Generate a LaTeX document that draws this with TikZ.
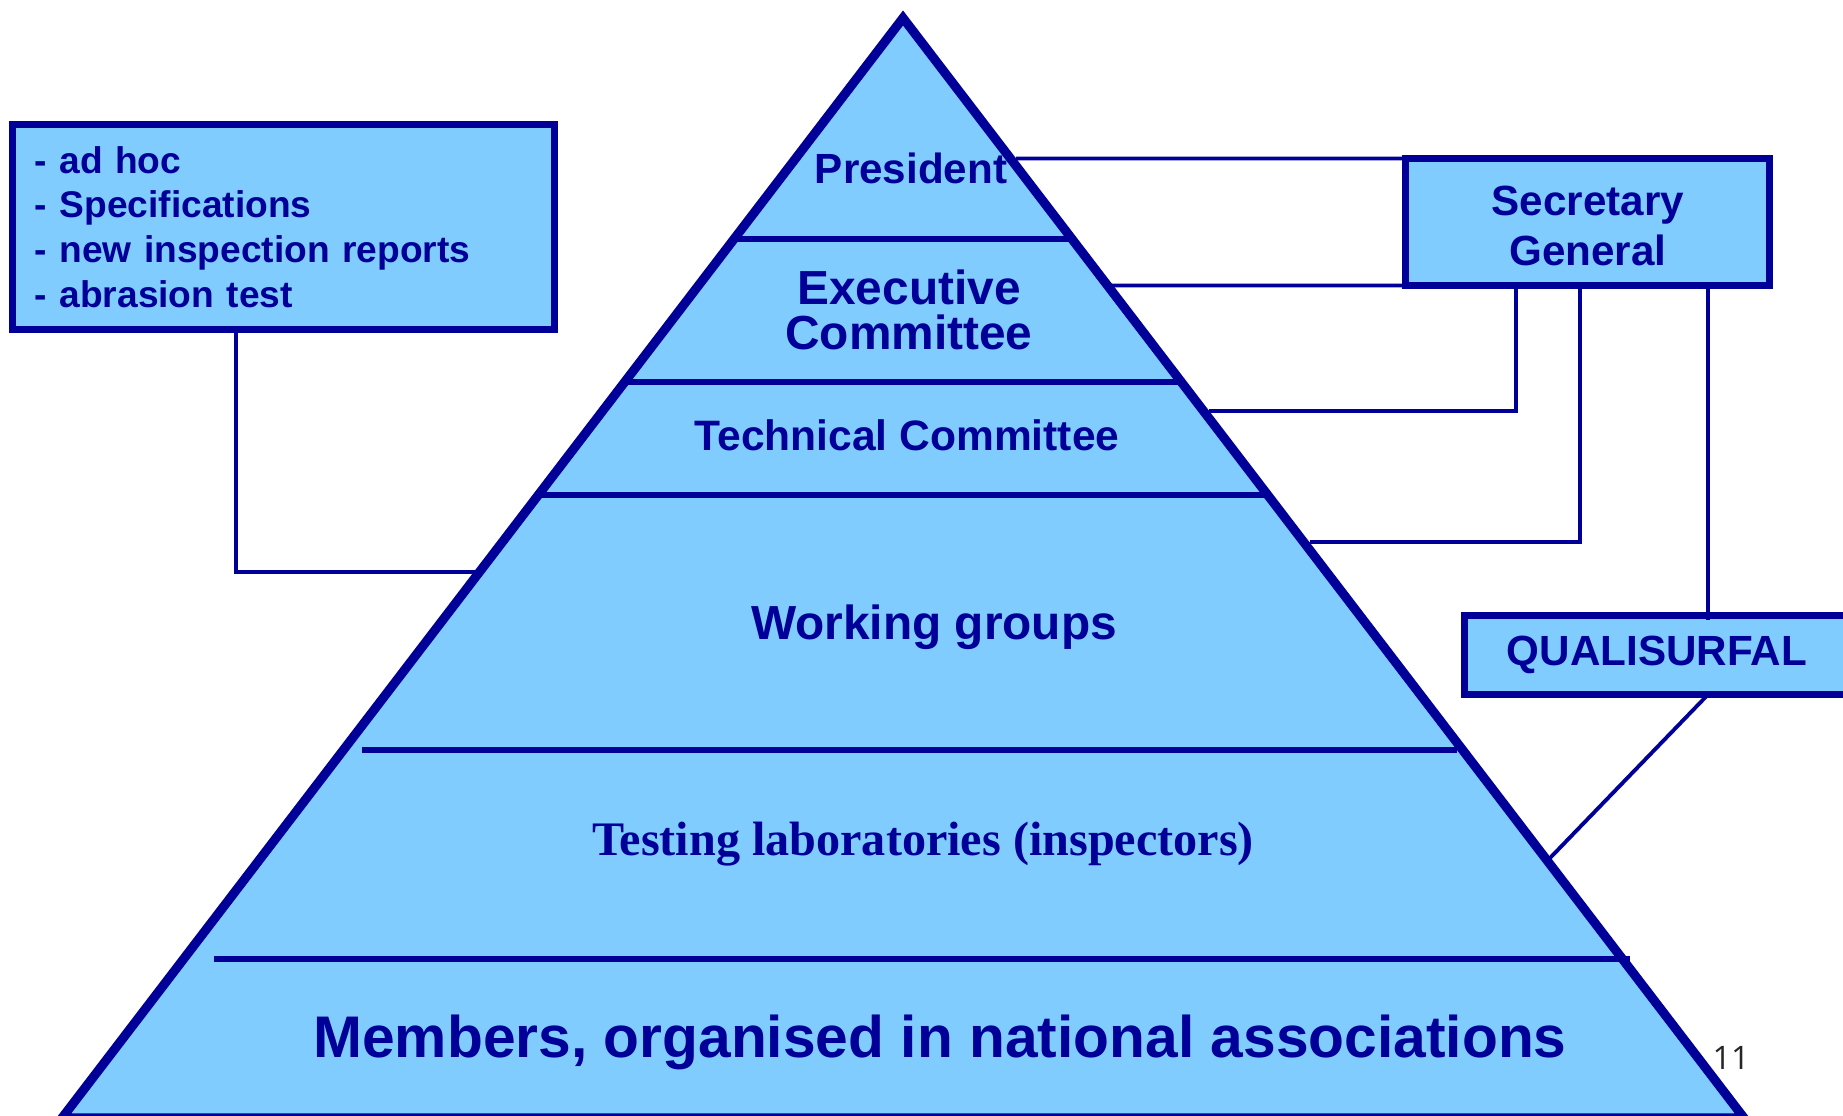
\documentclass[tikz,border=0pt]{standalone}
\usepackage{fontspec}
\setmainfont{Liberation Sans}
\newfontfamily\serifbold{Liberation Serif}
\newfontfamily\pagefont{Open Sans}
\definecolor{pyrnavy}{HTML}{000099}
\definecolor{pyrfill}{HTML}{80CCFF}
\tikzset{
  level/.style={text=pyrnavy, inner sep=0pt},
  box/.style={draw=pyrnavy, fill=pyrfill, line width=2pt, inner sep=0pt, outer sep=0pt, text=pyrnavy},
  link/.style={draw=pyrnavy, line width=1.1pt},
  divider/.style={draw=pyrnavy, line width=1.45pt}
}
\begin{document}
\begin{tikzpicture}[x=0.01cm, y=-0.01cm]
\useasboundingbox (0,0) rectangle (1843,1115);

% The pyramid and its levels
\fill[pyrfill] (903,18) -- (62,1118) -- (1744,1118) -- cycle;
\draw[divider] (732,239) -- (1074,239);
\draw[divider] (623,382) -- (1183,382);
\draw[divider] (537,495) -- (1269,495);
\draw[divider] (362,750) -- (1457,750);
\draw[divider] (214,959) -- (1630,959);
\draw[pyrnavy, line width=2.6pt, line join=miter] (903,18) -- (62,1118) -- (1744,1118) -- cycle;

\node[level, font=\fontsize{12}{14}\selectfont\bfseries] (pres) at (911,168) {President};
\node[level, align=center, font=\fontsize{13.6}{12.8}\selectfont\bfseries] (exec) at (909,310) {Executive\\Committee};
\node[level, font=\fontsize{12.1}{14}\selectfont\bfseries] (tech) at (907,435) {Technical Committee};
\node[level, font=\fontsize{13.6}{16}\selectfont\bfseries] (work) at (934,627) {Working groups};
\node[level, font=\serifbold\fontsize{13.7}{16}\selectfont\bfseries] (labs) at (923,844) {Testing laboratories (inspectors)};
\node[level, font=\fontsize{16.7}{20}\selectfont\bfseries] (members) at (940,1042) {Members, organised in national associations};

% Boxes beside the pyramid
\node[box, minimum width=5.42cm, minimum height=2.05cm, text width=4.97cm, inner xsep=0.225cm, align=left,
      font=\fontsize{10.56}{12.7}\selectfont\bfseries] (tasks) at (283.5,227)
  {- ad hoc\\- Specifications\\- new inspection reports\\- abrasion test};
\node[box, minimum width=3.64cm, minimum height=1.27cm, align=center,
      font=\fontsize{12}{14.2}\selectfont\bfseries] (sg) at (1587.5,222) {};
\node[level, align=center, font=\fontsize{12}{14.2}\selectfont\bfseries] (sgtext) at (1588,226) {Secretary\\General};
\node[box, minimum width=3.85cm, minimum height=0.79cm,
      font=\fontsize{12}{14}\selectfont\bfseries] (quali) at (1657,655) {QUALISURFAL};

% Where the lines meet the pyramid
\coordinate (presE) at (1016,158.5);
\coordinate (execE) at (1105,285.5);
\coordinate (techE) at (1209,411);
\coordinate (techJ) at (1516,411);
\coordinate (workE) at (1310,542);
\coordinate (workJ) at (1580,542);
\coordinate (qualiJ) at (1708,620);
\coordinate (qualiE) at (1550,858);
\coordinate (tasksJ) at (236,572);
\coordinate (tasksE) at (477,572);

% Connecting lines
\draw[link] (presE) -- (sg.north west);
\draw[link] (execE) -- (sg.south west);
\draw[link] (sg.south -| techJ) -- (techJ) -- (techE);
\draw[link] (sg.south -| workJ) -- (workJ) -- (workE);
\draw[link] (sg.south -| qualiJ) -- (qualiJ);
\draw[link] (quali.south -| qualiJ) -- (qualiE);
\draw[link] (tasks.south -| tasksJ) -- (tasksJ) -- (tasksE);

\node[font=\pagefont\fontsize{9.2}{10}\selectfont, text=black!85, inner sep=0pt] (page) at (1731,1058) {11};
\end{tikzpicture}
\end{document}
